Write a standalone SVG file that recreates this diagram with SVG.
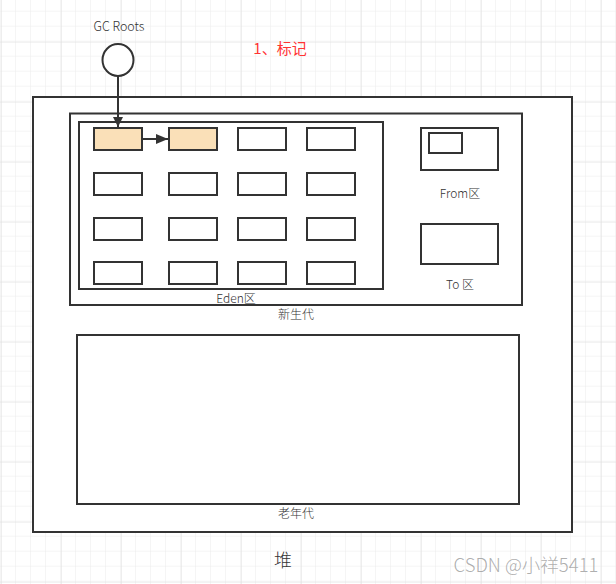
<svg xmlns="http://www.w3.org/2000/svg" width="616" height="584" viewBox="0 0 616 584">
<defs>
<pattern id="minor" x="1" y="41.7" width="15" height="15" patternUnits="userSpaceOnUse">
<path d="M15 0V15M0 15H15" fill="none" stroke="#ebebeb" stroke-width="1"/>
</pattern>
<pattern id="major" x="1" y="41.7" width="60" height="60" patternUnits="userSpaceOnUse">
<path d="M0 0V60M0 0H60" fill="none" stroke="#dddddd" stroke-width="1"/>
</pattern>
<marker id="arr" viewBox="0 0 10 10" refX="10" refY="5" markerWidth="10" markerHeight="10" markerUnits="userSpaceOnUse" orient="auto">
<path d="M0 0L10 5L0 10Z" fill="#333"/>
</marker>
<marker id="arr2" viewBox="0 0 10 10" refX="10" refY="5" markerWidth="12" markerHeight="10" markerUnits="userSpaceOnUse" orient="auto" preserveAspectRatio="none">
<path d="M0 0L10 5L0 10Z" fill="#333"/>
</marker>
</defs>
<style>
.box{fill:#fff;stroke:#333;stroke-width:2}
.obj{fill:#fff;stroke:#333;stroke-width:2}
.hot{fill:#fae0b8}
.lbl{font-family:"Noto Sans CJK SC","Noto Sans",sans-serif;font-size:12px;font-weight:300;fill:#333;text-anchor:middle}
.edge{fill:none;stroke:#333;stroke-width:2}
</style>
<rect width="616" height="584" fill="#fff"/>
<rect width="616" height="584" fill="url(#minor)"/>
<rect width="616" height="584" fill="url(#major)"/>

<g id="gcroots">
<text class="lbl" x="119" y="31" style="font-size:12.5px">GC Roots</text>
<ellipse cx="118" cy="60" rx="15.5" ry="16" class="obj"/>
</g>
<g id="title">
<text x="280" y="54" style="font-family:'Noto Sans CJK SC',sans-serif;font-size:15px;fill:#ff3333;text-anchor:middle">1、标记</text>
</g>

<g id="heap">
<rect x="33" y="97" width="539" height="435" class="box"/>
<text class="lbl" x="283" y="567" style="font-size:18px">堆</text>
</g>
<g id="young">
<rect x="70" y="113.5" width="452" height="191.5" class="box"/>
<text class="lbl" x="296" y="319">新生代</text>
</g>
<g id="eden">
<rect x="79" y="122" width="304" height="167" class="box"/>
<text class="lbl" x="236" y="303">Eden区</text>
</g>
<g id="eden-objects">
<rect x="94" y="128" width="48" height="22" class="obj hot"/>
<rect x="169" y="128" width="48" height="22" class="obj hot"/>
<rect x="238" y="128" width="48" height="22" class="obj"/>
<rect x="307" y="128" width="48" height="22" class="obj"/>
<rect x="94" y="173" width="48" height="22" class="obj"/>
<rect x="169" y="173" width="48" height="22" class="obj"/>
<rect x="238" y="173" width="48" height="22" class="obj"/>
<rect x="307" y="173" width="48" height="22" class="obj"/>
<rect x="94" y="218" width="48" height="22" class="obj"/>
<rect x="169" y="218" width="48" height="22" class="obj"/>
<rect x="238" y="218" width="48" height="22" class="obj"/>
<rect x="307" y="218" width="48" height="22" class="obj"/>
<rect x="94" y="262" width="48" height="22" class="obj"/>
<rect x="169" y="262" width="48" height="22" class="obj"/>
<rect x="238" y="262" width="48" height="22" class="obj"/>
<rect x="307" y="262" width="48" height="22" class="obj"/>
</g>
<g id="from">
<rect x="421" y="128" width="77" height="42" class="box"/>
<rect x="429" y="133" width="33" height="20" class="obj"/>
<text class="lbl" x="460" y="198">From区</text>
</g>
<g id="to">
<rect x="421" y="224" width="77" height="40" class="box"/>
<text class="lbl" x="460" y="289">To 区</text>
</g>
<g id="old">
<rect x="77" y="335" width="442" height="169" class="box"/>
<text class="lbl" x="296" y="518">老年代</text>
</g>

<g id="connectors">
<path d="M118 76V127" class="edge" marker-end="url(#arr)"/>
<path d="M142 139H168" class="edge" marker-end="url(#arr2)"/>
</g>

<text x="526" y="572" style="font-family:'Noto Sans CJK SC',sans-serif;font-size:18.5px;font-weight:300;fill:#999;fill-opacity:0.8;text-anchor:middle">CSDN @小祥5411</text>
</svg>
